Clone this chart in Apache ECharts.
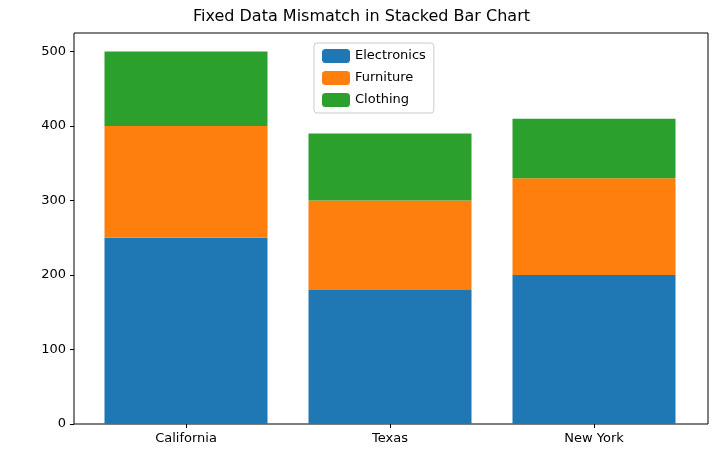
<!DOCTYPE html>
<html><head><meta charset="utf-8">
<script src="https://cdn.jsdelivr.net/npm/echarts@6/dist/echarts.min.js"></script>
</head><body style="margin:0">
<div id="c" style="width:723px;height:472px"></div>
<script>
const categories = ['California','Texas','New York'];
const electronics = [250,180,200];
const furniture = [150,120,130];
const clothing = [100,90,80];
const chart = echarts.init(document.getElementById('c'));
const font = 'DejaVu Sans';
chart.setOption({
  animation:false,
  textStyle:{fontFamily:font},
  title:{text:'Fixed Data Mismatch in Stacked Bar Chart',left:'center',top:4,textStyle:{fontFamily:font,fontSize:16,fontWeight:'normal',color:'#000'}},
  legend:{orient:'vertical',left:314,top:43,itemWidth:28,itemHeight:14,itemGap:8,padding:[6,8],
    borderColor:'#ccc',borderWidth:1,borderRadius:3,backgroundColor:'#fff',
    textStyle:{fontFamily:font,fontSize:13,color:'#000'},
    data:['Electronics','Furniture','Clothing']},
  grid:[{left:84,width:612,top:33,bottom:48},
        {left:74,right:15,top:33,bottom:48,show:true,borderColor:'#000',borderWidth:1,z:0}],
  xAxis:[{type:'category',data:categories,gridIndex:0,
    axisLine:{show:false},axisTick:{show:true,alignWithLabel:true,length:4,lineStyle:{color:'#000'}},
    axisLabel:{fontFamily:font,fontSize:13,color:'#000',margin:8}},
    {type:'value',gridIndex:1,show:false}],
  yAxis:[{type:'value',gridIndex:0,min:0,max:525,interval:100,offset:10,
    axisLine:{show:false},axisTick:{show:true,length:4,lineStyle:{color:'#000'}},
    axisLabel:{fontFamily:font,fontSize:13,color:'#000',showMaxLabel:false,formatter:v=>v%100===0?v:''},
    splitLine:{show:false}},
    {type:'value',gridIndex:1,show:false}],
  series:[
    {name:'Electronics',type:'bar',stack:'a',data:electronics,barWidth:163,itemStyle:{color:'#1f77b4'}},
    {name:'Furniture',type:'bar',stack:'a',data:furniture,barWidth:163,itemStyle:{color:'#ff7f0e'}},
    {name:'Clothing',type:'bar',stack:'a',data:clothing,barWidth:163,itemStyle:{color:'#2ca02c'}}
  ]
});
</script></body></html>
